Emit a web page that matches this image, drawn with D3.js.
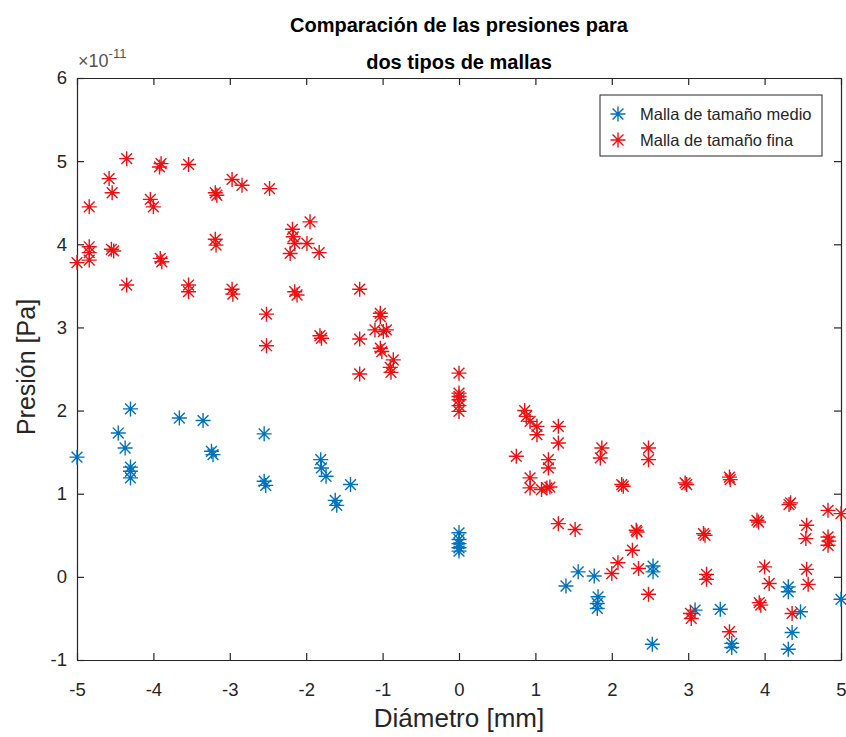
<!DOCTYPE html>
<html>
<head>
<meta charset="utf-8">
<script src="https://cdn.jsdelivr.net/npm/d3@7"></script>
<style>
  html, body { margin: 0; padding: 0; background: #fff; }
  svg { display: block; font-family: Arial, "Liberation Sans", Helvetica, sans-serif; }
</style>
</head>
<body>
<svg id="chart" width="846" height="737"></svg>
<script>
// Pressure comparison for two mesh sizes (values in units of 1e-11 Pa)
const exponent = -11;
const xTicks = [-5, -4, -3, -2, -1, 0, 1, 2, 3, 4, 5];
const yTicks = [-1, 0, 1, 2, 3, 4, 5, 6];
const seriesNames = ["Malla de tamaño medio", "Malla de tamaño fina"];

// Medium mesh
const medioX = [-5.0, -4.30, -4.46, -4.37, -4.30, -4.30, -4.30, -3.66, -3.35, -3.24, -3.22,
  -2.55, -2.55, -2.53, -1.81, -1.80, -1.74, -1.62, -1.60, -1.42,
  0, 0, 0, 0, 0,
  1.40, 1.56, 1.77, 1.82, 1.81, 1.81, 2.54, 2.54, 2.53, 3.09, 3.42, 3.57, 3.57,
  4.31, 4.31, 4.47, 4.36, 4.31, 5.0];
const medioY = [1.44, 2.02, 1.73, 1.55, 1.32, 1.27, 1.19, 1.91, 1.88, 1.51, 1.47,
  1.72, 1.15, 1.10, 1.41, 1.31, 1.21, 0.92, 0.86, 1.11,
  0.53, 0.45, 0.40, 0.35, 0.31,
  -0.11, 0.06, 0.01, -0.24, -0.32, -0.38, 0.13, 0.06, -0.81, -0.40, -0.39, -0.80, -0.85,
  -0.12, -0.18, -0.42, -0.67, -0.87, -0.27];

// Fine mesh
const finaX = [-5.0, -4.84, -4.84, -4.84, -4.84, -4.58, -4.54, -4.55, -4.52, -4.35, -4.35,
  -4.04, -4.00, -3.90, -3.92, -3.91, -3.89, -3.54, -3.54, -3.54, -3.19, -3.17, -3.19, -3.18,
  -2.97, -2.84, -2.97, -2.96, -2.48, -2.52, -2.52, -2.18, -2.17, -2.15, -2.21, -1.99, -1.95,
  -1.83, -2.15, -2.12, -1.82, -1.80, -1.30, -1.03, -1.03, -1.10, -0.99, -0.95, -1.30, -1.03,
  -1.01, -0.86, -0.90, -0.89, -1.30,
  0, 0, 0, 0, 0, 0,
  0.86, 0.88, 0.93, 1.02, 1.02, 1.30, 1.30, 0.75, 1.17, 1.17, 0.93, 0.93, 1.08, 1.15, 1.19,
  1.87, 1.85, 2.48, 2.48, 2.13, 2.15, 2.96, 2.98, 3.54, 3.55, 4.34, 4.32, 4.83, 5.0,
  3.90, 3.92, 4.55, 4.54, 4.83, 4.83, 4.84, 1.30, 1.52, 2.32, 2.33, 3.20, 3.22, 2.27, 2.08,
  2.35, 2.00, 3.24, 3.24, 4.0, 4.06, 4.55, 4.57, 2.48, 3.03, 3.04, 3.54, 3.95, 3.93, 4.36];
const finaY = [3.78, 3.97, 3.90, 3.81, 4.45, 4.79, 4.62, 3.94, 3.92, 5.03, 3.51,
  4.54, 4.45, 4.97, 4.93, 3.83, 3.79, 4.96, 3.51, 3.43, 4.62, 4.59, 4.06, 3.99,
  4.78, 4.71, 3.46, 3.40, 4.67, 3.16, 2.78, 4.18, 4.09, 4.01, 3.89, 4.01, 4.27,
  3.90, 3.43, 3.39, 2.90, 2.87, 3.46, 3.17, 3.13, 2.97, 2.95, 2.97, 2.86, 2.75,
  2.71, 2.61, 2.52, 2.46, 2.44,
  2.45, 2.21, 2.17, 2.13, 2.06, 1.99,
  2.00, 1.93, 1.87, 1.81, 1.71, 1.81, 1.61, 1.45, 1.41, 1.31, 1.19, 1.07, 1.05, 1.07, 1.08,
  1.55, 1.43, 1.55, 1.41, 1.11, 1.09, 1.13, 1.11, 1.20, 1.17, 0.89, 0.87, 0.80, 0.76,
  0.68, 0.66, 0.62, 0.46, 0.48, 0.38, 0.43, 0.64, 0.57, 0.56, 0.54, 0.52, 0.50, 0.32, 0.17,
  0.10, 0.04, 0.03, -0.03, 0.12, -0.08, 0.09, -0.09, -0.21, -0.44, -0.50, -0.66, -0.34, -0.31, -0.44];

const colors = ["#0072BD", "#ee1111"];

const svg = d3.select("#chart");
const plot = { left: 77, right: 841, top: 78, bottom: 660 };

const x = d3.scaleLinear().domain([-5, 5]).range([plot.left, plot.right]);
const y = d3.scaleLinear().domain([-1, 6]).range([plot.bottom, plot.top]);

const axisColor = "#262626";
const tickLen = 7;
const fmt = d => String(d);

// Axes with inward ticks on all four sides
const gBottom = svg.append("g").attr("transform", `translate(0,${plot.bottom})`)
  .call(d3.axisBottom(x).tickValues(xTicks).tickFormat(fmt).tickSizeInner(-tickLen).tickSizeOuter(0).tickPadding(23));
const gTop = svg.append("g").attr("transform", `translate(0,${plot.top})`)
  .call(d3.axisTop(x).tickValues(xTicks).tickSizeInner(-tickLen).tickSizeOuter(0).tickFormat(""));
const gLeft = svg.append("g").attr("transform", `translate(${plot.left},0)`)
  .call(d3.axisLeft(y).tickValues(yTicks).tickFormat(fmt).tickSizeInner(-tickLen).tickSizeOuter(0).tickPadding(10));
const gRight = svg.append("g").attr("transform", `translate(${plot.right},0)`)
  .call(d3.axisRight(y).tickValues(yTicks).tickSizeInner(-tickLen).tickSizeOuter(0).tickFormat(""));

[gBottom, gTop, gLeft, gRight].forEach(g => {
  g.select(".domain").attr("stroke", axisColor).attr("stroke-width", 1.2);
  g.selectAll(".tick line").attr("stroke", axisColor).attr("stroke-width", 1.2);
  g.selectAll(".tick text").attr("fill", axisColor).attr("font-size", 18.5)
    .attr("font-family", "Arial, 'Liberation Sans', sans-serif");
});

// Exponent label above the y axis
const expLabel = svg.append("text")
  .attr("x", plot.left + 1).attr("y", plot.top - 11)
  .attr("fill", "#555").attr("font-size", 18);
expLabel.append("tspan").text("\u00d710");
expLabel.append("tspan").attr("dy", -9).attr("font-size", 13).text(String(exponent));

// Asterisk marker (+ and ×)
const r = 7.5, d = r * 0.72;
const asterisk = `M${-r},0H${r}M0,${-r}V${r}M${-d},${-d}L${d},${d}M${-d},${d}L${d},${-d}`;

function drawSeries(xs, ys, color) {
  svg.append("g")
    .selectAll("path")
    .data(d3.range(xs.length))
    .join("path")
    .attr("d", asterisk)
    .attr("transform", i => `translate(${x(xs[i])},${y(ys[i])})`)
    .attr("fill", "none")
    .attr("stroke", color)
    .attr("stroke-width", 1.4);
}
drawSeries(medioX, medioY, colors[0]);
drawSeries(finaX, finaY, colors[1]);

// Title
const cx = (plot.left + plot.right) / 2;
svg.append("text").attr("x", cx).attr("y", 32).attr("text-anchor", "middle")
  .attr("font-size", 20).attr("font-weight", "bold").attr("fill", "#000")
  .text("Comparación de las presiones para");
svg.append("text").attr("x", cx).attr("y", 69).attr("text-anchor", "middle")
  .attr("font-size", 20).attr("font-weight", "bold").attr("fill", "#000")
  .text("dos tipos de mallas");

// Axis labels
svg.append("text").attr("x", cx).attr("y", 727).attr("text-anchor", "middle")
  .attr("font-size", 26).attr("fill", axisColor).text("Diámetro [mm]");
svg.append("text").attr("transform", `translate(35,${(plot.top + plot.bottom) / 2 - 2}) rotate(-90)`)
  .attr("text-anchor", "middle").attr("font-size", 25).attr("fill", axisColor)
  .text("Presión [Pa]");

// Legend
const lg = svg.append("g").attr("transform", "translate(600,95)");
lg.append("rect").attr("width", 222).attr("height", 61)
  .attr("fill", "#fff").attr("stroke", axisColor).attr("stroke-width", 1);
seriesNames.forEach((name, i) => {
  const ly = 19 + i * 26;
  lg.append("path").attr("d", asterisk).attr("transform", `translate(18,${ly})`)
    .attr("fill", "none").attr("stroke", colors[i]).attr("stroke-width", 1.4);
  lg.append("text").attr("x", 40).attr("y", ly + 6).attr("font-size", 16.5)
    .attr("fill", axisColor).text(name);
});
</script>
</body>
</html>
